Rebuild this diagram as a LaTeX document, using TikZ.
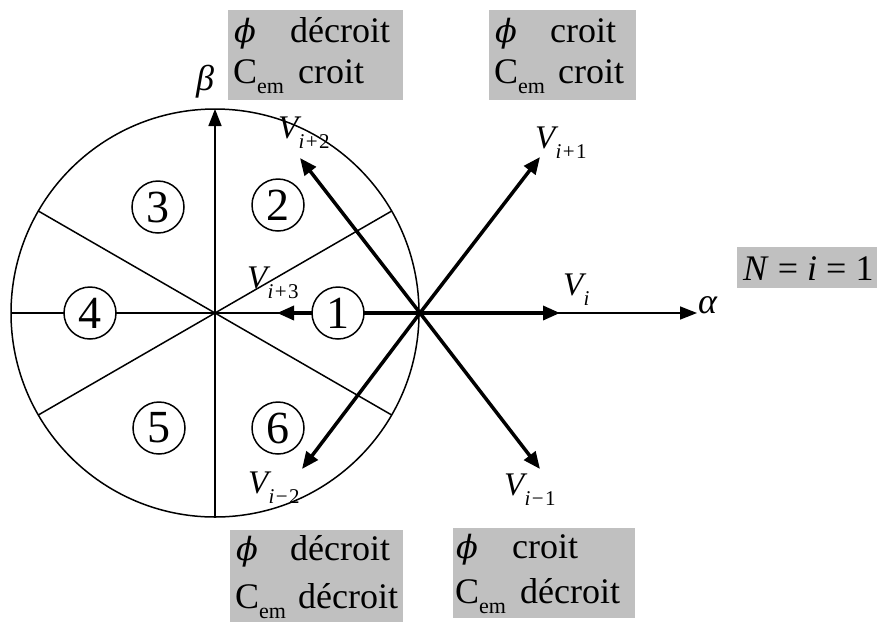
\documentclass[tikz,border=0pt]{standalone}
\usepackage{fontspec}
\setmainfont{Liberation Serif}
\newfontfamily\phifont{DejaVu Serif}
\usetikzlibrary{arrows.meta}
\definecolor{boxgray}{HTML}{C0C0C0}
\newcommand\Vs[1]{\textit{V}\kern-3pt\raisebox{-10pt}{\fontsize{21}{21}\selectfont #1}}
\newcommand\Cem{C\raisebox{-10pt}{\fontsize{22}{22}\selectfont em}}
\newcommand\Phisym{{\phifont\itshape\fontsize{32}{32}\selectfont ϕ}}
\newcommand\sop[1]{\kern1.5pt#1\kern1.5pt}
\tikzset{
  thinline/.style={line width=1.5pt},
  axisarrow/.style={line width=1.5pt,-{Triangle[length=17pt,width=13pt]}},
  vec/.style={line width=3.5pt,-{Triangle[length=17pt,width=14pt]}},
  num/.style={circle,draw,line width=1.5pt,fill=white,minimum size=52pt,inner sep=0pt,font=\fontsize{46}{46}\selectfont},
  graybox/.style={fill=boxgray,inner sep=0pt,anchor=north west},
  txt/.style={anchor=base west,inner sep=0pt,font=\fontsize{36}{36}\selectfont},
  lab/.style={anchor=base west,inner sep=0pt,font=\fontsize{33}{33}\selectfont},
}
\begin{document}
\begin{tikzpicture}[x=1pt,y=-1pt]
\useasboundingbox (0,0) rectangle (877,622);
% gray boxes
\node[graybox,minimum width=175pt,minimum height=90pt] (b1) at (228,10) {};
\node[graybox,minimum width=147pt,minimum height=90pt] (b2) at (489,10) {};
\node[graybox,minimum width=173pt,minimum height=92pt] (b3) at (230,530) {};
\node[graybox,minimum width=182pt,minimum height=90pt] (b4) at (453,528) {};
\node[graybox,minimum width=140pt,minimum height=41pt] (b5) at (737,247) {};
% box texts
\node[txt] (t1a) at (234,42) {\Phisym};
\node[txt] (t1b) at (290,42) {décroit};
\node[txt] (t1c) at (233,83) {\Cem};
\node[txt] (t1d) at (298,83) {croit};
\node[txt] (t2a) at (495,42) {\Phisym};
\node[txt] (t2b) at (550,42) {croit};
\node[txt] (t2c) at (494,83) {\Cem};
\node[txt] (t2d) at (558,83) {croit};
\node[txt] (t3a) at (236,560) {\Phisym};
\node[txt] (t3b) at (290,560) {décroit};
\node[txt] (t3c) at (235,608) {\Cem};
\node[txt] (t3d) at (298,608) {décroit};
\node[txt] (t4a) at (456,558) {\Phisym};
\node[txt] (t4b) at (512,558) {croit};
\node[txt] (t4c) at (455,603) {\Cem};
\node[txt] (t4d) at (520,603) {décroit};
\node[txt] (t5) at (743,280) {\textit{N} = \textit{i} = 1};
% geometry
\coordinate (O) at (215,313);
\coordinate (P) at (420,313);
\coordinate (top) at (215,109);
\coordinate (bot) at (215,517);
\coordinate (left) at (11,313);
\coordinate (alpha) at (697,313);
\coordinate (s1) at (391.7,211);
\coordinate (s2) at (38.3,211);
\coordinate (s3) at (38.3,415);
\coordinate (s4) at (391.7,415);
\draw[thinline] (O) circle (204pt);
\draw[thinline] (s2) -- (s4);
\draw[thinline] (s3) -- (s1);
\draw[axisarrow] (bot) -- (top);
\draw[axisarrow] (left) -- (alpha);
% vectors
\coordinate (vi) at (560,313);
\coordinate (vip1) at (540,157);
\coordinate (vip2) at (300,158);
\coordinate (vip3) at (277,313);
\coordinate (vim2) at (302,469);
\coordinate (vim1) at (540,469);
\draw[vec] (P) -- (vi);
\draw[vec] (P) -- (vip1);
\draw[vec] (P) -- (vip2);
\draw[vec] (P) -- (vip3);
\draw[vec] (P) -- (vim2);
\draw[vec] (P) -- (vim1);
% sector numbers
\node[num] (n1) at (338,313) {1};
\node[num] (n2) at (278,205) {2};
\node[num] (n3) at (158,207) {3};
\node[num] (n4) at (90,313) {4};
\node[num] (n5) at (159,428) {5};
\node[num] (n6) at (278,428) {6};
% labels
\node[lab] (lbeta) at (196,90) {\fontsize{36}{36}\selectfont\textit{β}};
\node[lab] (lalpha) at (698,313) {\fontsize{36}{36}\selectfont\textit{α}};
\node[lab] (lvi) at (563,295) {\Vs{\textit{i}}};
\node[lab] (lvip1) at (535,148) {\Vs{\textit{i}\sop{+}1}};
\node[lab] (lvip2) at (278,138) {\Vs{\textit{i}\sop{+}2}};
\node[lab] (lvip3) at (247,288) {\Vs{\textit{i}\sop{+}3}};
\node[lab] (lvim2) at (248,493) {\Vs{\textit{i}\sop{−}2}};
\node[lab] (lvim1) at (504,495) {\Vs{\textit{i}\sop{−}1}};
\end{tikzpicture}
\end{document}
